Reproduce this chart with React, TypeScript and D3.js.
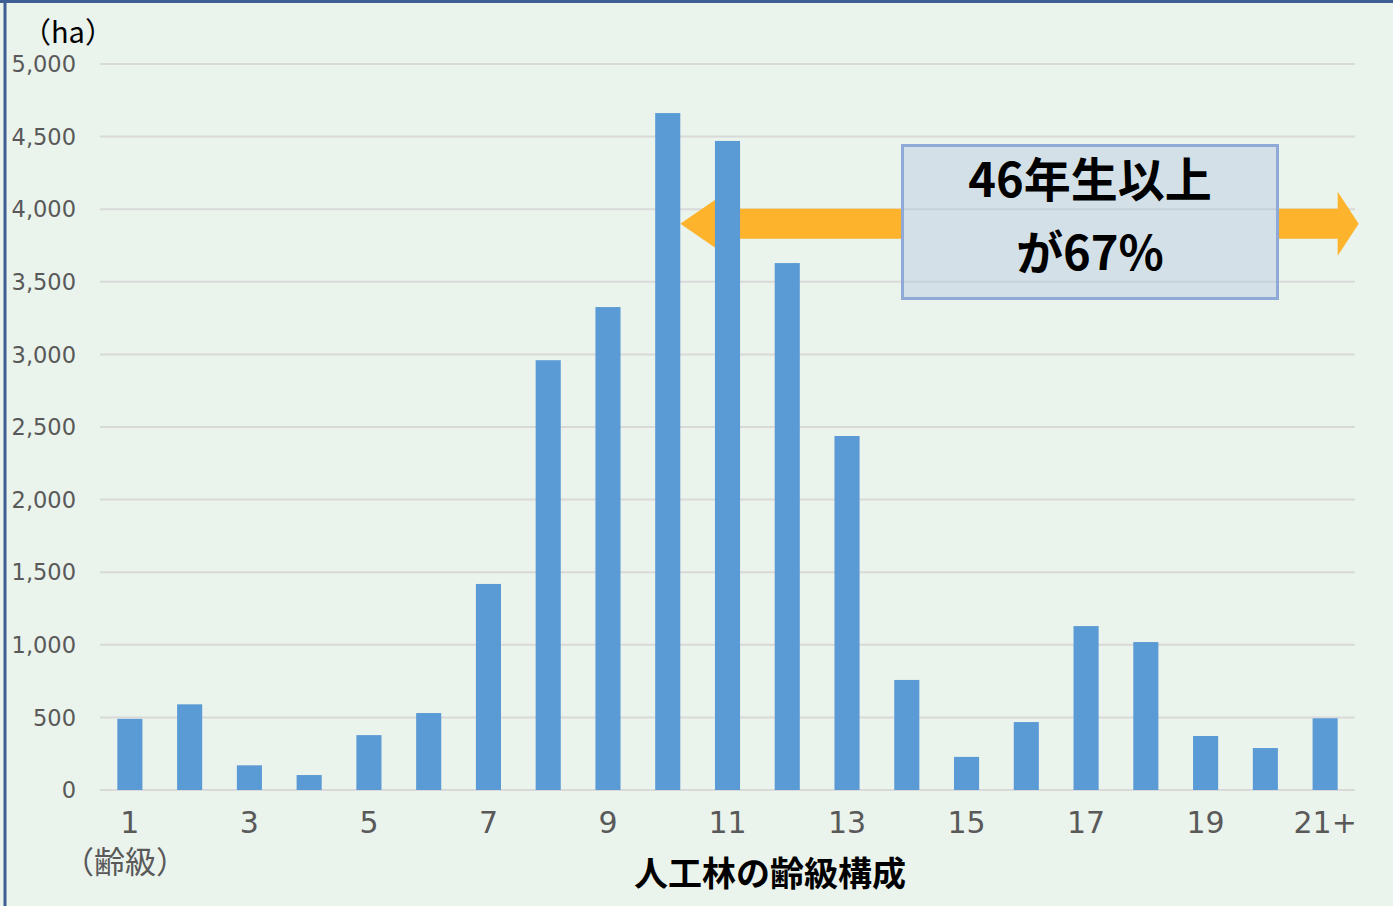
import React from "react";
import * as d3 from "d3";

const categories = ["1","2","3","4","5","6","7","8","9","10","11","12","13","14","15","16","17","18","19","20","21+"];
const values = [490, 590, 170, 103, 378, 530, 1419, 2960, 3326, 4662, 4470, 3629, 2438, 758, 228, 468, 1129, 1019, 372, 289, 494];
const yTicks = [0, 500, 1000, 1500, 2000, 2500, 3000, 3500, 4000, 4500, 5000];
const xLabelShown = ["1","3","5","7","9","11","13","15","17","19","21+"];
const boxLines = ["46年生以上", "が67%"];
const yUnit = "（ha）";
const xUnit = "（齢級）";
const xTitle = "人工林の齢級構成";
const arrowRange = ["10", "21+"];

const W = 1393, H = 906;
const plotLeft = 100, plotRight = 1355, plotTop = 64, plotBottom = 790;

export default function App() {
  const x = d3.scaleBand<string>().domain(categories).range([plotLeft, plotRight]).paddingInner(0.58).paddingOuter(0.29);
  const y = d3.scaleLinear().domain([0, 5000]).range([plotBottom, plotTop]);
  const bw = x.bandwidth();
  const fmt = d3.format(",");

  const ax1 = (x(arrowRange[0]) as number) + bw;
  const ax2 = (x(arrowRange[1]) as number) + bw + 21;
  const ay = y(3900);
  const shaftH = 15, headL = 35, headR = 21;
  const arrowPath = [
    [ax1, ay],
    [ax1 + headL, ay - 24],
    [ax1 + headL, ay - shaftH],
    [ax2 - headR, ay - shaftH],
    [ax2 - headR, ay - 32],
    [ax2, ay],
    [ax2 - headR, ay + 32],
    [ax2 - headR, ay + shaftH],
    [ax1 + headL, ay + shaftH],
    [ax1 + headL, ay + 24],
  ];
  const arrowD = "M" + arrowPath.map((p) => p.join(",")).join("L") + "Z";

  const sans = "'DejaVu Sans', Verdana, sans-serif";
  const cjk = "'Noto Sans CJK JP', 'Noto Sans', sans-serif";

  const box = { x: 902.5, y: 145.5, w: 375, h: 153 };

  return (
    <svg width={W} height={H} style={{ position: "absolute", left: 0, top: 0, display: "block" }}>
      <rect x={0} y={0} width={W} height={H} fill="#eaf3ec" />
      <line x1={5} y1={0} x2={5} y2={H} stroke="#3e5f93" strokeWidth={3} />
      <line x1={0} y1={1.5} x2={W} y2={1.5} stroke="#3e5f93" strokeWidth={3} />

      {yTicks.map((t) => (
        <g key={t}>
          <line x1={plotLeft} x2={plotRight} y1={y(t)} y2={y(t)} stroke="#d9d9d9" strokeWidth={2} />
          <text x={76} y={y(t)} dy="0.36em" textAnchor="end" fontFamily={sans} fontSize={22.5} fill="#595959">{fmt(t)}</text>
        </g>
      ))}

      <path d={arrowD} fill="#fdb32b" />

      {categories.map((c, i) => (
        <rect key={c} x={x(c)} y={y(values[i])} width={bw} height={plotBottom - y(values[i])} fill="#5b9bd5" />
      ))}

      {categories.filter((c) => xLabelShown.includes(c)).map((c) => (
        <text key={c} x={(x(c) as number) + bw / 2} y={833} textAnchor="middle" fontFamily={sans} fontSize={30} fill="#595959">{c}</text>
      ))}

      <text x={22} y={43} fontFamily={cjk} fontSize={29} fill="#000" textAnchor="start">{yUnit}</text>
      <text x={125} y={873} fontFamily={cjk} fontSize={31} fill="#595959" textAnchor="middle">{xUnit}</text>
      <text x={770} y={886} fontFamily={cjk} fontSize={34} fontWeight={700} fill="#000" textAnchor="middle">{xTitle}</text>

      <rect x={box.x} y={box.y} width={box.w} height={box.h} fill="#d3e0e8" stroke="#8faad6" strokeWidth={3} />
      {yTicks.filter((t) => y(t) > box.y + 2 && y(t) < box.y + box.h - 2).map((t) => (
        <line key={"b" + t} x1={box.x + 1.5} x2={box.x + box.w - 1.5} y1={y(t)} y2={y(t)} stroke="#c6d1d8" strokeWidth={2} />
      ))}
      <text x={1090} y={197} textAnchor="middle" fontFamily={cjk} fontSize={47} fontWeight={700} fill="#000">{boxLines[0]}</text>
      <text x={1090} y={270} textAnchor="middle" fontFamily={cjk} fontSize={47} fontWeight={700} fill="#000">{boxLines[1]}</text>
    </svg>
  );
}
